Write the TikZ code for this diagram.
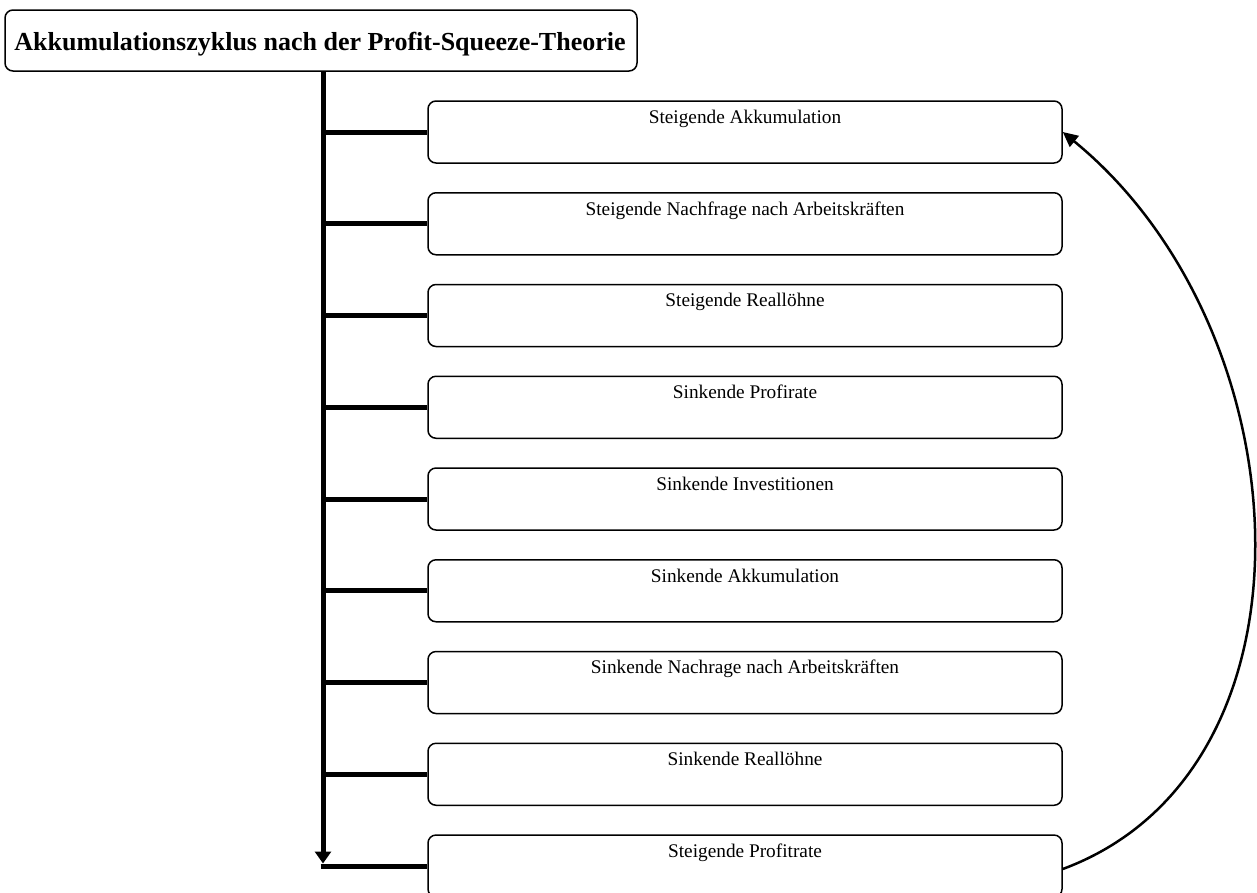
\documentclass[tikz,border=0pt]{standalone}
\usepackage{fontspec}
\setmainfont{Liberation Serif}
\usetikzlibrary{arrows.meta}
\begin{document}
\begin{tikzpicture}[x=1pt,y=-1pt,
  titlebox/.style={draw,line width=1.5pt,rounded corners=8pt,minimum width=632pt,minimum height=61pt,inner sep=0pt},
  titletext/.style={font=\fontsize{26}{30}\selectfont\bfseries,anchor=base,inner sep=0pt},
  stepbox/.style={draw,line width=1.5pt,rounded corners=8pt,minimum width=634pt,minimum height=62pt,inner sep=0pt},
  steptext/.style={font=\fontsize{19.3}{22}\selectfont,anchor=base,inner sep=0pt},
  trunk/.style={line width=5pt},
  cyc/.style={line width=2.5pt,-{Triangle[length=15pt,width=14pt]}}]
\useasboundingbox (0,0) rectangle (1257,892);
\node[titlebox] (title) at (321,40.5) {};
\node[titletext] (tt) at (320,50) {Akkumulationszyklus nach der Profit-Squeeze-Theorie};
\foreach \i/\t in {1/Steigende Akkumulation,2/Steigende Nachfrage nach Arbeitskräften,3/Steigende Reallöhne,4/Sinkende Profirate,5/Sinkende Investitionen,6/Sinkende Akkumulation,7/Sinkende Nachrage nach Arbeitskräften,8/Sinkende Reallöhne,9/Steigende Profitrate}{
  \pgfmathsetmacro{\yy}{101+(\i-1)*91.75+31}
  \node[stepbox] (b\i) at (745,\yy) {};
  \node[steptext] (t\i) at ([yshift=-23pt]b\i.north) {\t};
}
\coordinate (top) at (323,71);
\coordinate (corner) at (b9.west -| top);
\draw[trunk,-{Triangle[length=12pt,width=16pt]}] (top) -- ([yshift=2.5pt]corner);
\draw[trunk] ([xshift=-2.5pt]corner) -- (b9.west);
\foreach \i in {1,...,8}{
  \draw[trunk] (b\i.west -| top) -- (b\i.west);
}
\draw[cyc] ([yshift=-3pt]b9.east) .. controls (1330,770) and (1305,330) .. (b1.east);
\end{tikzpicture}
\end{document}
